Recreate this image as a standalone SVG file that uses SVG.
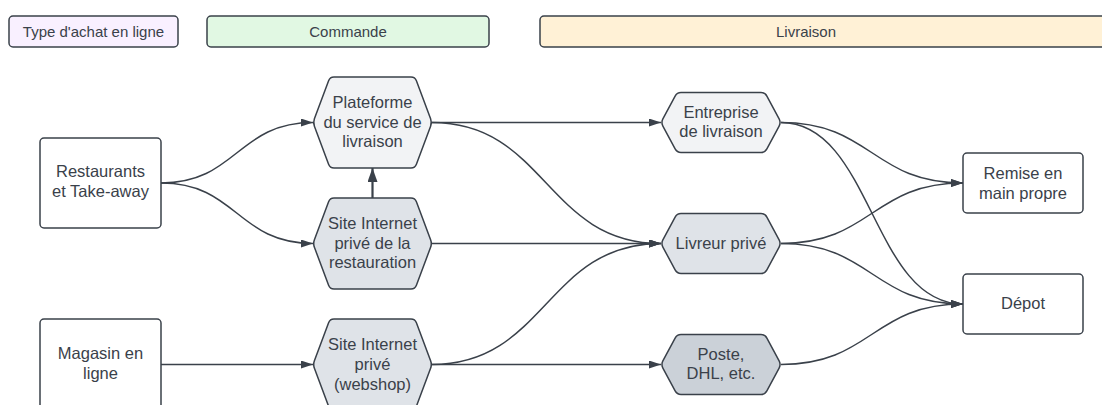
<svg xmlns="http://www.w3.org/2000/svg" width="1102" height="405" viewBox="0 0 1102 405">
<defs>
<marker id="ah" viewBox="0 0 12 8" refX="12" refY="4" markerWidth="12" markerHeight="8" markerUnits="userSpaceOnUse" orient="auto">
<path d="M0,0 L12,4 L0,8 Z" fill="#3a414a"/>
</marker>
<marker id="ah2" viewBox="0 0 14 10" refX="14" refY="5" markerWidth="14" markerHeight="10" markerUnits="userSpaceOnUse" orient="auto">
<path d="M0,0 L14,5 L0,10 Z" fill="#3a414a"/>
</marker>
<path id="hexT" d="M-38.5,-45.5 H38.5 Q42.5,-45.5 43.9,-41.76 L58.1,-3.74 Q59.5,0 58.1,3.74 L43.9,41.76 Q42.5,45.5 38.5,45.5 H-38.5 Q-42.5,45.5 -43.9,41.76 L-58.1,3.74 Q-59.5,0 -58.1,-3.74 L-43.9,-41.76 Q-42.5,-45.5 -38.5,-45.5 Z"/>
<path id="hexS" d="M-40,-30 H40 Q44,-30 45.88,-26.47 L58.12,-3.53 Q60,0 58.12,3.53 L45.88,26.47 Q44,30 40,30 H-40 Q-44,30 -45.88,26.47 L-58.12,3.53 Q-60,0 -58.12,-3.53 L-45.88,-26.47 Q-44,-30 -40,-30 Z"/>
</defs>
<style>
text{font-family:"Liberation Sans",Arial,sans-serif;fill:#3a414a;text-anchor:middle}
.hdr{font-size:15px}
.lbl{font-size:16.5px}
.box{fill:#ffffff;stroke:#3a414a;stroke-width:1.5}
.hx{stroke:#3a414a;stroke-width:1.5;stroke-linejoin:round}
.l1{fill:#f2f3f5}
.l2{fill:#dfe3e8}
.l3{fill:#cbd1d8}
.c{fill:none;stroke:#3a414a;stroke-width:1.5;marker-end:url(#ah)}
</style>
<rect width="1102" height="405" fill="#ffffff"/>

<g id="hdr-type">
<rect x="9" y="16" width="169" height="31" rx="4" fill="#f9f0ff" stroke="#3a414a" stroke-width="1.5"/>
<text class="hdr" x="93.5" y="37">Type d'achat en ligne</text>
</g>
<g id="hdr-commande">
<rect x="207" y="16" width="282" height="31" rx="4" fill="#e1f8e3" stroke="#3a414a" stroke-width="1.5"/>
<text class="hdr" x="348" y="37">Commande</text>
</g>
<g id="hdr-livraison">
<rect x="540" y="16" width="580" height="31" rx="4" fill="#fff1d6" stroke="#3a414a" stroke-width="1.5"/>
<text class="hdr" x="806" y="37">Livraison</text>
</g>

<g id="connectors">
<path class="c" d="M161,183 C237,183 237,122.5 313,122.5"/>
<path class="c" d="M161,183 C237,183 237,243.5 313,243.5"/>
<path class="c" d="M161,364.5 L313,364.5"/>
<path d="M372.5,198 L372.5,168" fill="none" stroke="#3a414a" stroke-width="2.2" marker-end="url(#ah2)"/>
<path class="c" d="M432,122.5 L661,122.5"/>
<path class="c" d="M432,122.5 C546,122.5 546,243.5 661,243.5"/>
<path class="c" d="M432,243.5 L661,243.5"/>
<path class="c" d="M432,364.5 C546,364.5 546,243.5 661,243.5"/>
<path class="c" d="M432,364.5 L661,364.5"/>
<path class="c" d="M781,122.5 C872,122.5 872,183 963,183"/>
<path class="c" d="M781,122.5 C872,122.5 872,304 963,304"/>
<path class="c" d="M781,243.5 C872,243.5 872,183 963,183"/>
<path class="c" d="M781,243.5 C872,243.5 872,304 963,304"/>
<path class="c" d="M781,364.5 C872,364.5 872,304 963,304"/>
</g>

<g id="restaurants">
<rect class="box" x="40" y="138" width="121" height="90" rx="4"/>
<text class="lbl" x="100.5" y="177">Restaurants</text>
<text class="lbl" x="100.5" y="197">et Take-away</text>
</g>
<g id="magasin">
<rect class="box" x="40" y="319" width="121" height="91" rx="4"/>
<text class="lbl" x="100.5" y="358.5">Magasin en</text>
<text class="lbl" x="100.5" y="378.5">ligne</text>
</g>

<g id="plateforme">
<use href="#hexT" class="hx l1" transform="translate(372.5,122.5)"/>
<text class="lbl" x="372.5" y="107.5">Plateforme</text>
<text class="lbl" x="372.5" y="127.5">du service de</text>
<text class="lbl" x="372.5" y="147">livraison</text>
</g>
<g id="site-restauration">
<use href="#hexT" class="hx l2" transform="translate(372.5,243.5)"/>
<text class="lbl" x="372.5" y="228.5">Site Internet</text>
<text class="lbl" x="372.5" y="248.5">privé de la</text>
<text class="lbl" x="372.5" y="268">restauration</text>
</g>
<g id="webshop">
<use href="#hexT" class="hx l2" transform="translate(372.5,364.5)"/>
<text class="lbl" x="372.5" y="350">Site Internet</text>
<text class="lbl" x="372.5" y="370">privé</text>
<text class="lbl" x="372.5" y="389.5">(webshop)</text>
</g>

<g id="entreprise">
<use href="#hexS" class="hx l1" transform="translate(721,122.5)"/>
<text class="lbl" x="721" y="117.5">Entreprise</text>
<text class="lbl" x="721" y="137">de livraison</text>
</g>
<g id="livreur">
<use href="#hexS" class="hx l2" transform="translate(721,243.5)"/>
<text class="lbl" x="721" y="248.5">Livreur privé</text>
</g>
<g id="poste">
<use href="#hexS" class="hx l3" transform="translate(721,364.5)"/>
<text class="lbl" x="721" y="359.5">Poste,</text>
<text class="lbl" x="721" y="379">DHL, etc.</text>
</g>

<g id="remise">
<rect class="box" x="963" y="153" width="120" height="60" rx="4"/>
<text class="lbl" x="1023" y="179">Remise en</text>
<text class="lbl" x="1023" y="198.5">main propre</text>
</g>
<g id="depot">
<rect class="box" x="963" y="274" width="120" height="60" rx="4"/>
<text class="lbl" x="1023" y="308.5">Dépot</text>
</g>
</svg>
